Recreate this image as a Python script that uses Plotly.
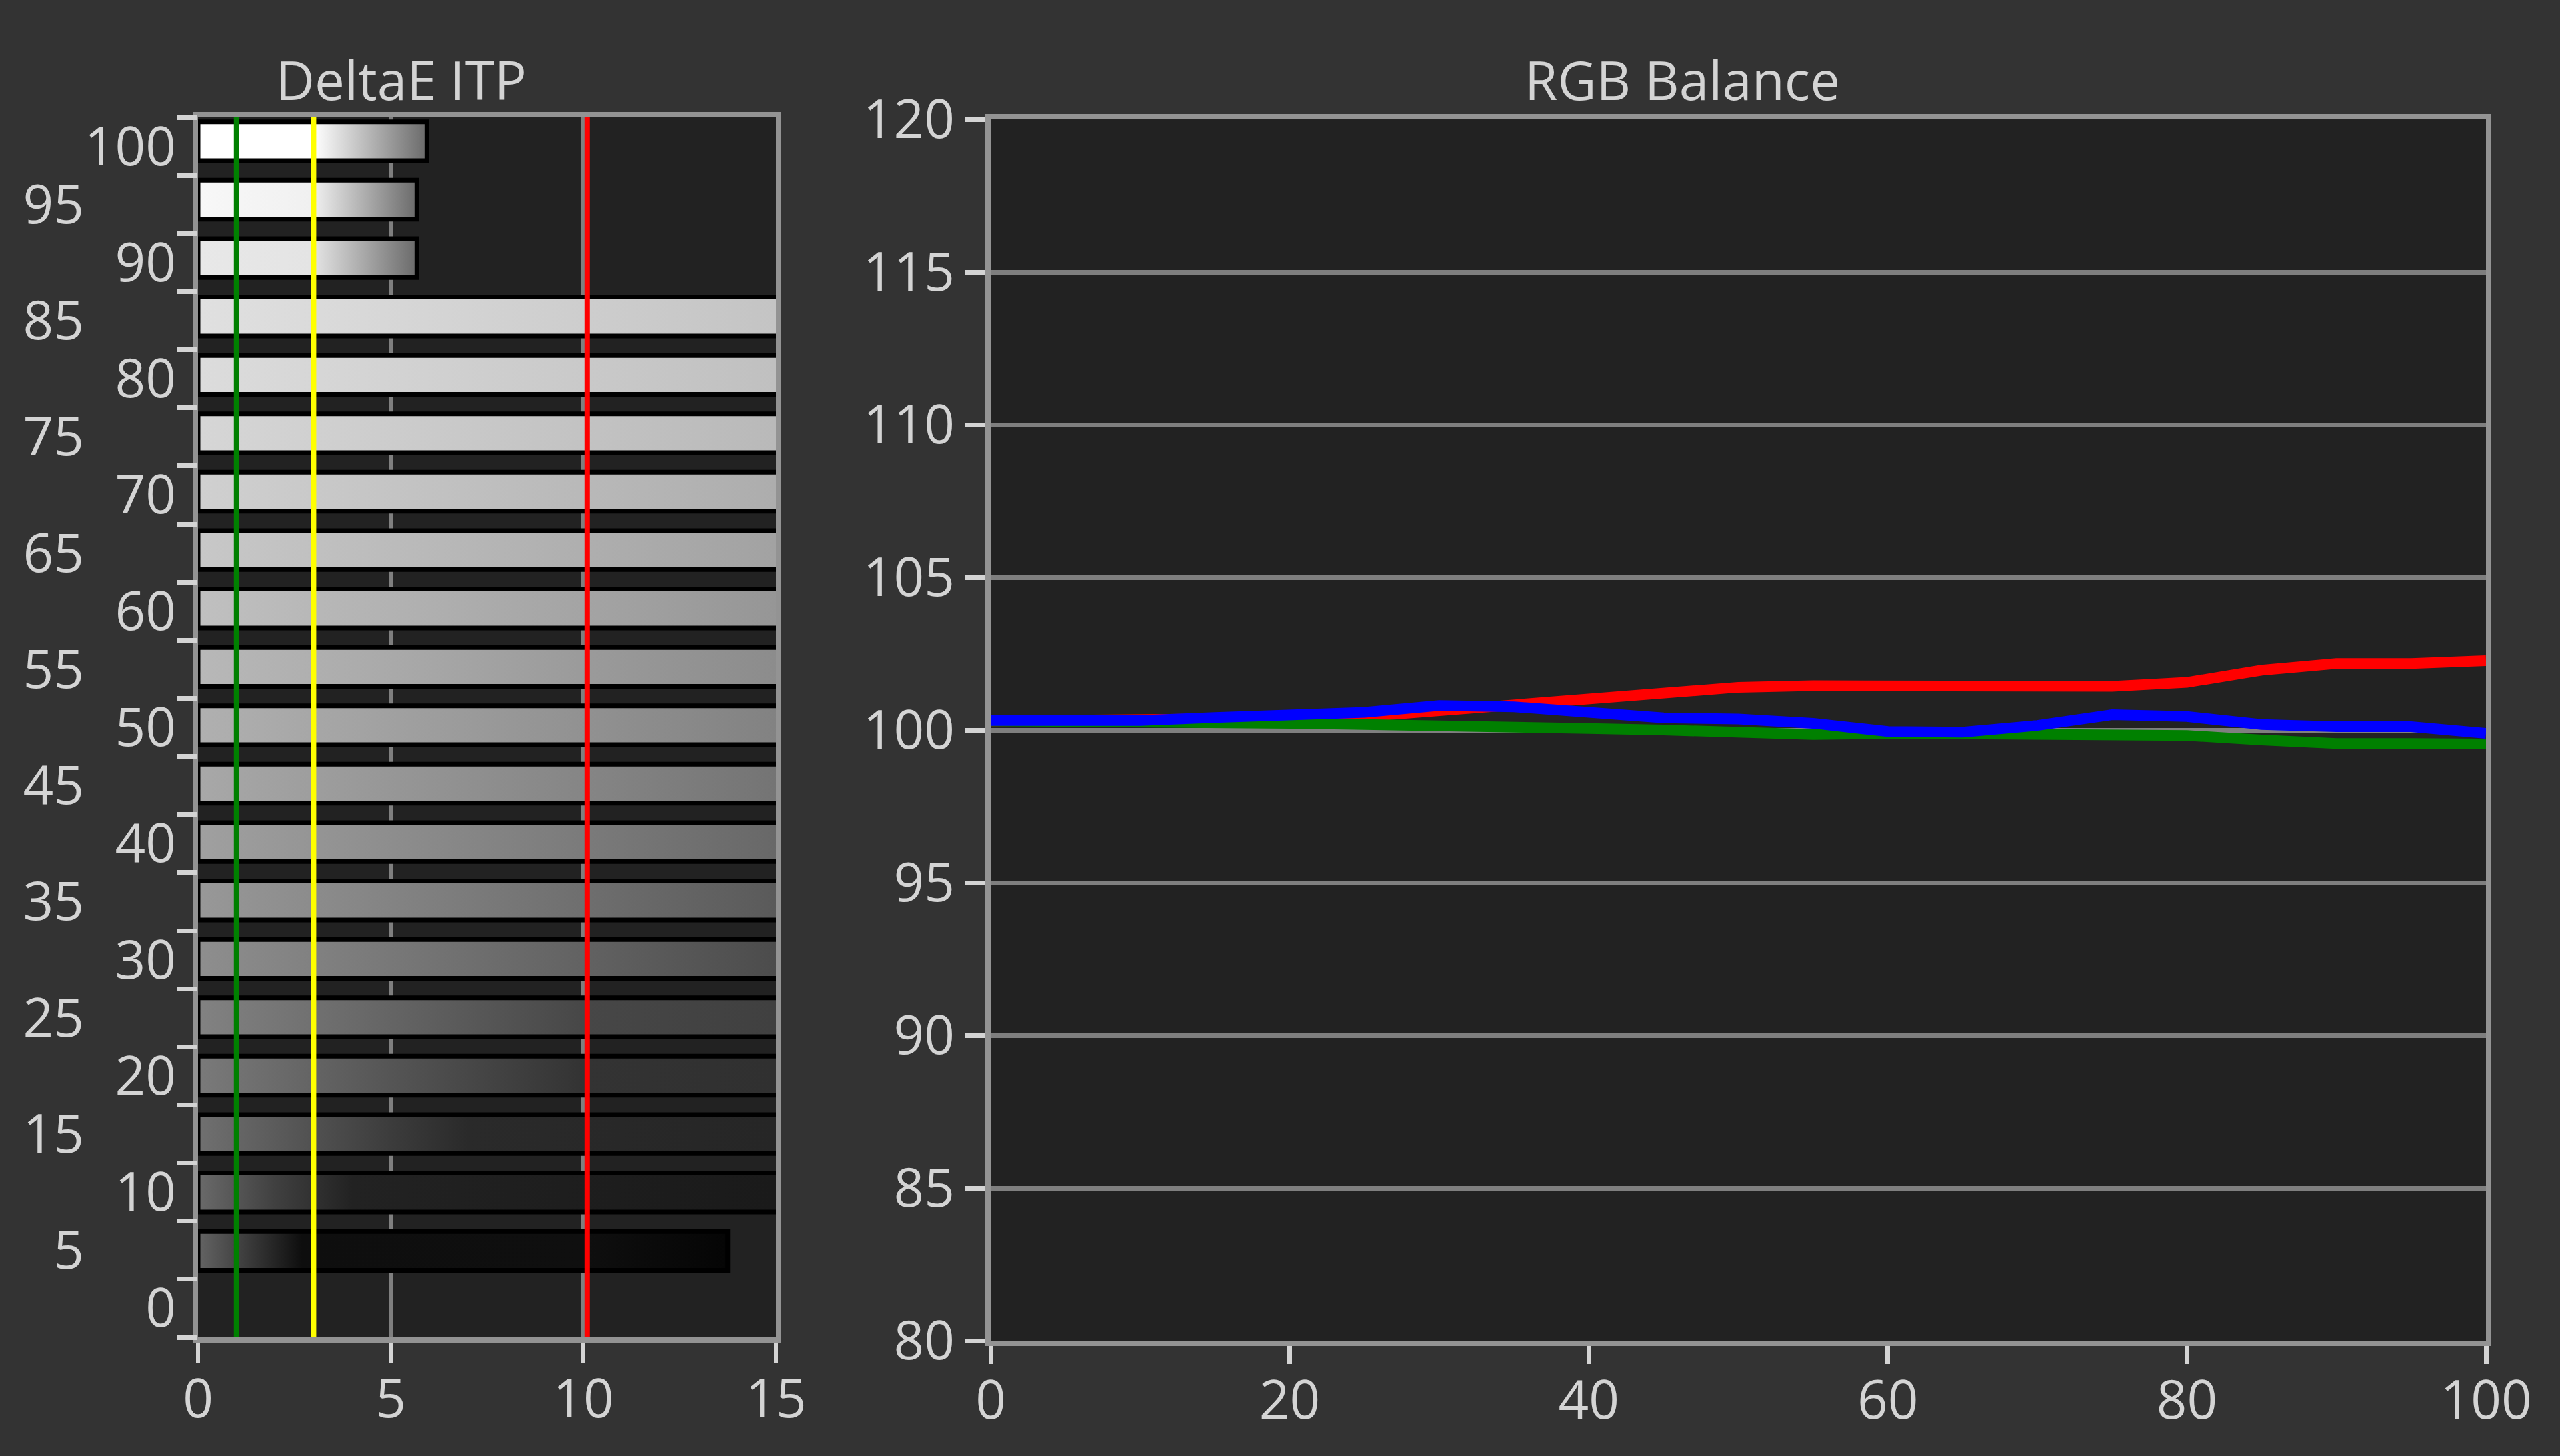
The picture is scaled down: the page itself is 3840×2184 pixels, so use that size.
import plotly.graph_objects as go

# ---------------- data ----------------
# DeltaE ITP per grey level (values beyond 15 are clipped by the axis)
levels = [5, 10, 15, 20, 25, 30, 35, 40, 45, 50, 55, 60, 65, 70, 75, 80, 85, 90, 95, 100]
delta_e = [13.75, 16, 16, 16, 16, 16, 16, 16, 16, 16, 16, 16, 16, 16, 16, 16, 16, 5.68, 5.68, 5.94]

# reference thresholds (green / yellow / red)
thresholds = [1.0, 3.0, 10.1]
threshold_colors = ["#008000", "#ffff00", "#ff0000"]

# RGB balance
stim = [0, 5, 10, 15, 20, 25, 30, 35, 40, 45, 50, 55, 60, 65, 70, 75, 80, 85, 90, 95, 100]
red = [100.30, 100.30, 100.30, 100.34, 100.38, 100.44, 100.62, 100.83, 100.97, 101.20, 101.40,
       101.45, 101.43, 101.40, 101.42, 101.43, 101.56, 101.96, 102.18, 102.18, 102.27]
green = [100.30, 100.30, 100.28, 100.25, 100.22, 100.18, 100.11, 100.07, 100.05, 100.00, 99.93,
         99.85, 99.89, 99.89, 99.88, 99.85, 99.82, 99.67, 99.56, 99.56, 99.54]
blue = [100.31, 100.31, 100.31, 100.41, 100.50, 100.58, 100.80, 100.76, 100.58, 100.40, 100.36,
        100.22, 99.95, 99.93, 100.15, 100.50, 100.44, 100.18, 100.11, 100.11, 99.89]

left_x_ticks = [0, 5, 10, 15]
left_y_even = [0, 10, 20, 30, 40, 50, 60, 70, 80, 90, 100]
left_y_odd = [5, 15, 25, 35, 45, 55, 65, 75, 85, 95]
right_x_ticks = [0, 20, 40, 60, 80, 100]
right_y_ticks = [80, 85, 90, 95, 100, 105, 110, 115, 120]

# ---------------- styles ----------------
# horizontal gradient stops per bar: (deltaE position, grey value)
bar_gradients = {
    100: [(0, 255), (3.0, 255), (5.94, 106)],
    95: [(0, 248), (3.0, 240), (5.68, 106)],
    90: [(0, 232), (3.0, 228), (5.68, 106)],
    85: [(0, 224), (15, 196)],
    80: [(0, 220), (15, 192)],
    75: [(0, 214), (15, 185)],
    70: [(0, 208), (15, 173)],
    65: [(0, 200), (15, 162)],
    60: [(0, 192), (15, 150)],
    55: [(0, 184), (15, 140)],
    50: [(0, 176), (15, 130)],
    45: [(0, 168), (15, 116)],
    40: [(0, 160), (15, 104)],
    35: [(0, 152), (15, 90)],
    30: [(0, 142), (15, 76)],
    25: [(0, 130), (10, 71), (15, 64)],
    20: [(0, 122), (5, 85), (10, 51), (15, 48)],
    15: [(0, 112), (5, 60), (7, 42), (15, 38)],
    10: [(0, 106), (2, 64), (4, 34), (15, 26)],
    5: [(0, 100), (2.7, 14), (10, 15), (13.75, 5)],
}
BAR_H = 3.33                  # bar thickness in y units
BAR_RANGE = [-2.4, 102.05]    # value range of the bar axis
LABEL_RANGE = [-2.5, 102.5]   # value range of the label / tick axes
W, H = 3840, 2184
FONT = "Open Sans"
TXT = "#d4d4d4"
AXLINE = "#939393"
GRID = "#7f7f7f"
PAPER = "#333333"
PLOT = "#222222"


def gray(v):
    return f"rgb({v},{v},{v})"


def py(p):
    return 1 - p / H


fig = go.Figure()

XMAX = left_x_ticks[-1]
for lvl, val in zip(levels, delta_e):
    stops = bar_gradients[lvl]
    cs = [[min(pos / XMAX, 1.0), gray(g)] for pos, g in stops]
    if cs[-1][0] < 1.0:
        cs.append([1.0, cs[-1][1]])
    fig.add_trace(go.Scatter(
        x=[0, val, val, 0, 0],
        y=[lvl - BAR_H / 2, lvl - BAR_H / 2, lvl + BAR_H / 2, lvl + BAR_H / 2, lvl - BAR_H / 2],
        mode="lines", fill="toself",
        line=dict(color="#000000", width=7),
        fillgradient=dict(type="horizontal", colorscale=cs, start=0, stop=XMAX),
        hoverinfo="skip", showlegend=False, xaxis="x", yaxis="y",
    ))

# empty traces so the overlaid label / tick axes are rendered
for ya in ["y3", "y4", "y5"]:
    fig.add_trace(go.Scatter(x=[None], y=[None], mode="lines", xaxis="x", yaxis=ya,
                             showlegend=False, hoverinfo="skip"))

for t, c in zip(thresholds, threshold_colors):
    fig.add_shape(type="line", x0=t, x1=t, y0=0, y1=1, xref="x", yref="y domain",
                  line=dict(color=c, width=8), layer="above")

for series, col in [(red, "#ff0000"), (green, "#008000"), (blue, "#0000ff")]:
    fig.add_trace(go.Scatter(x=stim, y=series, mode="lines",
                             line=dict(color=col, width=16),
                             showlegend=False, xaxis="x2", yaxis="y2"))

tick_font = dict(family=FONT, size=80, color=TXT)
boundaries = [-2.5] + [v + 2.5 for v in [0] + levels]

fig.update_layout(
    template="none",
    width=W, height=H,
    margin=dict(l=0, r=0, t=0, b=0),
    paper_bgcolor=PAPER, plot_bgcolor=PLOT,
    showlegend=False,
    xaxis=dict(domain=[297 / W, 1164 / W], range=[0, XMAX], tickvals=left_x_ticks,
               ticks="outside", ticklen=30, tickwidth=6, tickcolor=TXT, tickfont=tick_font,
               showgrid=True, gridcolor=GRID, gridwidth=6, zeroline=False,
               showline=True, linecolor=AXLINE, linewidth=8, mirror=True,
               automargin=False, anchor="y", ticklabelstandoff=-14),
    yaxis=dict(domain=[py(2006), py(176)], range=BAR_RANGE,
               ticks="", showticklabels=False, showgrid=False, zeroline=False,
               showline=True, linecolor=AXLINE, linewidth=8, mirror=True,
               automargin=False, anchor="x"),
    yaxis5=dict(overlaying="y", anchor="x", side="left", range=LABEL_RANGE,
                tickvals=boundaries, ticktext=["" for _ in boundaries],
                ticks="outside", ticklen=30, tickwidth=7, tickcolor=TXT,
                showgrid=False, zeroline=False, showline=False, automargin=False),
    yaxis3=dict(overlaying="y", anchor="x", side="left", range=LABEL_RANGE,
                tickvals=left_y_even, ticktext=[str(v) for v in left_y_even],
                ticks="", showgrid=False, zeroline=False, showline=False,
                tickfont=tick_font, automargin=False, ticklabelstandoff=32),
    yaxis4=dict(overlaying="y", anchor="x", side="left", range=LABEL_RANGE,
                tickvals=left_y_odd, ticktext=[str(v) for v in left_y_odd],
                ticks="", showgrid=False, zeroline=False, showline=False,
                tickfont=tick_font, automargin=False, ticklabelstandoff=170),
    xaxis2=dict(domain=[1486 / W, 3729 / W], range=[0, 100], tickvals=right_x_ticks,
                ticks="outside", ticklen=27, tickwidth=7, tickcolor=TXT, tickfont=tick_font,
                showgrid=False, zeroline=False,
                showline=True, linecolor=AXLINE, linewidth=8, mirror=True,
                automargin=False, anchor="y2", ticklabelstandoff=-14),
    yaxis2=dict(domain=[py(2011), py(179)], range=[80, 120], tickvals=right_y_ticks,
                ticks="outside", ticklen=30, tickwidth=7, tickcolor=TXT, tickfont=tick_font,
                showgrid=True, gridcolor=GRID, gridwidth=7, zeroline=False,
                showline=True, linecolor=AXLINE, linewidth=8, mirror=True,
                automargin=False, anchor="x2"),
    annotations=[
        dict(text="DeltaE ITP", x=602 / W, y=py(118), xref="paper", yref="paper",
             xanchor="center", yanchor="middle", showarrow=False,
             font=dict(family=FONT, size=80, color=TXT)),
        dict(text="RGB Balance", x=2523 / W, y=py(118), xref="paper", yref="paper",
             xanchor="center", yanchor="middle", showarrow=False,
             font=dict(family=FONT, size=80, color=TXT)),
    ],
)

fig.write_html("out.html",
               config={"displayModeBar": False},
               post_script="document.body.style.margin='0px';"
                           "document.body.style.background='#333333';")
